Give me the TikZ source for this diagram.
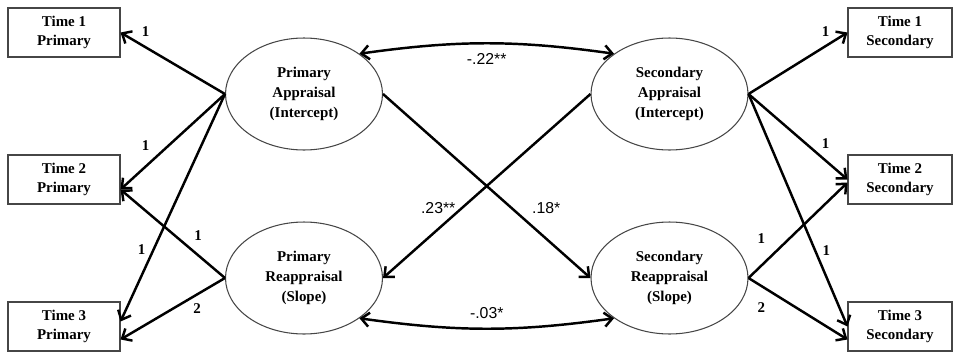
\documentclass[tikz,border=0pt]{standalone}
\RequirePackage{fontspec}
\setmainfont{Liberation Serif}
\newfontfamily\coeffont{Liberation Sans}
\RequirePackage{tikz}
\usetikzlibrary{arrows.meta}
\usetikzlibrary{calc}
\usetikzlibrary{shapes.geometric}
\definecolor{outlinegray}{RGB}{70, 70, 70}

\begin{document}
\begin{tikzpicture}[x=0.02cm, y=-0.02cm,
    obs/.style={draw, outlinegray, text=black, line width=0.6pt, minimum width=2.24cm, minimum height=0.98cm, inner sep=0pt, align=center, font=\bfseries\fontsize{8.5}{10.5}\selectfont},
    lat/.style={ellipse, draw, outlinegray, text=black, line width=0.6pt, minimum width=3.14cm, minimum height=2.24cm, inner sep=0pt, align=center, font=\bfseries\fontsize{8.5}{11.3}\selectfont},
    load/.style={line width=1.4pt, -{Straight Barb[length=4.5pt, width=8pt]}},
    cov/.style={line width=1.4pt, {Straight Barb[length=4.5pt, width=8pt]}-{Straight Barb[length=4.5pt, width=8pt]}},
    wt/.style={font=\bfseries\fontsize{8.5}{10}\selectfont, inner sep=1pt},
    coef/.style={font=\coeffont\fontsize{9}{11}\selectfont, inner sep=1pt}]
    \useasboundingbox (0, 0) rectangle (953, 352);

    % observed measures
    \node[obs] (t1p) at (64, 32.5) {Time 1\\Primary};
    \node[obs] (t2p) at (64, 179.5) {Time 2\\Primary};
    \node[obs] (t3p) at (64, 326.5) {Time 3\\Primary};
    \node[obs, minimum width=2.08cm] (t1s) at (900, 32.5) {Time 1\\Secondary};
    \node[obs, minimum width=2.08cm] (t2s) at (900, 179.5) {Time 2\\Secondary};
    \node[obs, minimum width=2.08cm] (t3s) at (900, 326.5) {Time 3\\Secondary};

    % growth factors
    \node[lat] (pa) at (304, 94) {Primary\\Appraisal\\(Intercept)};
    \node[lat] (pr) at (304, 278) {Primary\\Reappraisal\\(Slope)};
    \node[lat] (sa) at (669.5, 94) {Secondary\\Appraisal\\(Intercept)};
    \node[lat] (sr) at (669.5, 278) {Secondary\\Reappraisal\\(Slope)};

    \draw[load] (pa.west) -- (t1p.east) node[wt, pos=0.76, above=4.5pt] {1};
    \draw[load] (pa.west) -- ($(t2p.east)+(0, 10)$) node[wt, pos=0.76, above=7.5pt] {1};
    \draw[load] (pa.west) -- ($(t3p.east)+(0, -5)$) node[wt, pos=0.684, left=3pt] {1};
    \draw[load] (pr.west) -- ($(t2p.east)+(0, 10)$) node[wt, pos=0.257, above=6.5pt] {1};
    \draw[load] (pr.west) -- ($(t3p.east)+(0, 13)$) node[wt, pos=0.267, below=3.5pt] {2};

    \draw[load] (sa.east) -- (t1s.west) node[wt, pos=0.78, above=3.5pt] {1};
    \draw[load] (sa.east) -- (t2s.west) node[wt, pos=0.78, above=5pt] {1};
    \draw[load] (sa.east) -- (t3s.west) node[wt, pos=0.675, right=2.5pt] {1};
    \draw[load] (sr.east) -- ($(t2s.west)+(0, 3)$) node[wt, pos=0.13, above=11pt] {1};
    \draw[load] (sr.east) -- ($(t3s.west)+(0, 13)$) node[wt, pos=0.13, below=8pt] {2};

    \draw[load] (pa.east) -- (sr.west) node[coef, pos=0.62, right=10pt] {.18*};
    \draw[load] (sa.west) -- (pr.east) node[coef, pos=0.62, left=2pt] {.23**};

    \draw[cov] (pa.36) to[bend left=8] node[coef, midway, below=4pt] {-.22**} (sa.144);
    \draw[cov] (pr.-36) to[bend right=8] node[coef, midway, above=4pt] {-.03*} (sr.-144);
\end{tikzpicture}
\end{document}
